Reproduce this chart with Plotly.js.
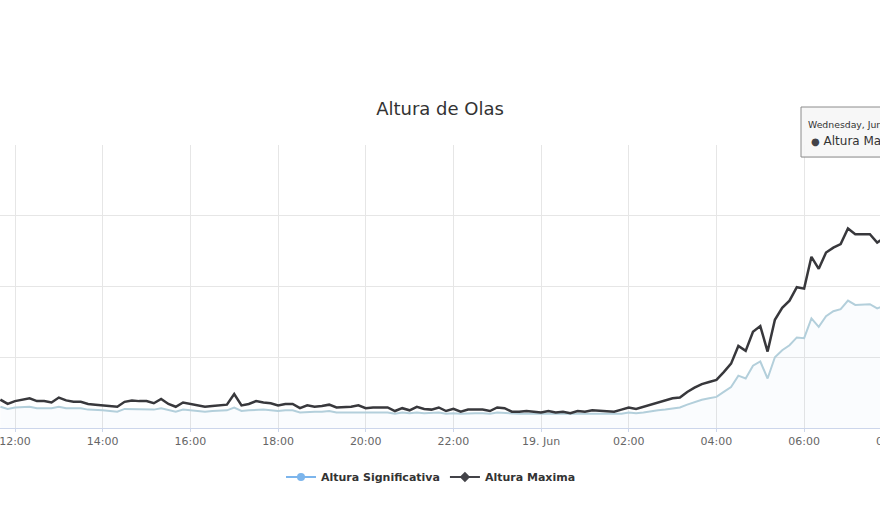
<!DOCTYPE html>
<html>
<head>
<meta charset="utf-8">
<script src="https://cdn.plot.ly/plotly-3.0.1.min.js"></script>
<style>
  html, body { margin: 0; padding: 0; width: 880px; height: 506px; overflow: hidden; background: #fff; }
  #chart { position: absolute; left: -60px; top: 0; width: 980px; height: 506px; }
</style>
</head>
<body>
<div id="chart"></div>
<script>
// ---- data (10-minute readings, starting 2019-06-18 11:40) ----
const startTime = Date.UTC(2019, 5, 18, 11, 40);
const stepMinutes = 10;

const alturaSignificativa = [
  0.30,0.27,0.29,0.29,0.30,0.28,0.28,0.28,0.30,0.28,
  0.28,0.28,0.26,0.26,0.25,0.24,0.23,0.27,0.27,0.27,
  0.27,0.26,0.28,0.25,0.23,0.26,0.25,0.24,0.23,0.24,
  0.24,0.25,0.29,0.24,0.25,0.26,0.26,0.25,0.24,0.25,
  0.25,0.22,0.23,0.23,0.23,0.24,0.22,0.22,0.23,0.23,
  0.22,0.22,0.22,0.22,0.20,0.22,0.21,0.22,0.21,0.21,
  0.22,0.20,0.21,0.20,0.21,0.21,0.21,0.20,0.22,0.21,
  0.20,0.20,0.20,0.20,0.19,0.20,0.19,0.19,0.19,0.20,
  0.19,0.20,0.20,0.19,0.20,0.20,0.22,0.21,0.22,0.24,
  0.25,0.26,0.28,0.29,0.33,0.37,0.40,0.42,0.44,0.51,
  0.58,0.74,0.70,0.88,0.94,0.70,1.00,1.10,1.17,1.28,
  1.27,1.55,1.43,1.58,1.65,1.68,1.80,1.74,1.74,1.75,
  1.69,1.73
];

const alturaMaxima = [
  0.40,0.34,0.38,0.40,0.42,0.38,0.38,0.36,0.43,0.39,
  0.37,0.37,0.34,0.33,0.32,0.30,0.30,0.37,0.39,0.38,
  0.38,0.35,0.41,0.34,0.30,0.36,0.34,0.32,0.30,0.31,
  0.32,0.33,0.48,0.32,0.34,0.38,0.36,0.35,0.32,0.34,
  0.34,0.28,0.32,0.30,0.31,0.33,0.29,0.29,0.30,0.32,
  0.28,0.29,0.29,0.29,0.24,0.28,0.25,0.30,0.27,0.26,
  0.29,0.24,0.27,0.23,0.26,0.26,0.26,0.24,0.29,0.28,
  0.23,0.23,0.24,0.23,0.22,0.24,0.22,0.23,0.21,0.24,
  0.23,0.25,0.24,0.23,0.23,0.26,0.29,0.27,0.30,0.33,
  0.36,0.38,0.42,0.43,0.51,0.57,0.62,0.65,0.68,0.79,
  0.91,1.16,1.09,1.36,1.44,1.08,1.53,1.70,1.80,1.99,
  1.97,2.42,2.25,2.48,2.55,2.60,2.82,2.74,2.74,2.74,
  2.62,2.69
];

const tickValues = [
  '2019-06-18 12:00','2019-06-18 14:00','2019-06-18 16:00','2019-06-18 18:00',
  '2019-06-18 20:00','2019-06-18 22:00','2019-06-19 00:00','2019-06-19 02:00',
  '2019-06-19 04:00','2019-06-19 06:00','2019-06-19 08:00'
];
const tickLabels = ['12:00','14:00','16:00','18:00','20:00','22:00','19. Jun','02:00','04:00','06:00','08:00'];

const seriesNames = ['Altura Significativa', 'Altura Maxima'];
const tooltipHeader = 'Wednesday, Jun 19, 07:40';
const tooltipValue = '2.69';

// ---- build ----
const times = alturaMaxima.map((_, i) =>
  new Date(startTime + i * stepMinutes * 60000).toISOString().slice(0, 19).replace('T', ' '));

// page-pixel helpers (plot area spans page x -20..900, y 145..428)
const px = p => (p + 20) / 920;
const py = p => (428 - p) / 283;

const traces = [
  {
    x: times, y: alturaSignificativa, type: 'scatter', mode: 'lines',
    name: seriesNames[0], showlegend: false,
    line: { color: '#b3cfdb', width: 2 },
    fill: 'tozeroy', fillcolor: 'rgba(124,181,236,0.035)',
    hoverinfo: 'skip'
  },
  {
    x: times, y: alturaMaxima, type: 'scatter', mode: 'lines',
    name: seriesNames[1], showlegend: false,
    line: { color: '#38383c', width: 2.5 },
    hoverinfo: 'skip'
  },
  {
    x: [null], y: [null], type: 'scatter', mode: 'lines+markers',
    name: seriesNames[0], showlegend: true,
    line: { color: '#7cb5ec', width: 2 },
    marker: { color: '#7cb5ec', size: 8, symbol: 'circle' }
  },
  {
    x: [null], y: [null], type: 'scatter', mode: 'lines+markers',
    name: seriesNames[1], showlegend: true,
    line: { color: '#434348', width: 2 },
    marker: { color: '#434348', size: 8, symbol: 'diamond' }
  }
];

const layout = {
  width: 980, height: 506,
  margin: { l: 40, r: 20, t: 145, b: 78, pad: 0 },
  paper_bgcolor: '#ffffff', plot_bgcolor: '#ffffff',
  font: { family: 'DejaVu Sans, sans-serif', color: '#666666' },
  title: {
    text: 'Altura de Olas',
    font: { family: 'DejaVu Sans, sans-serif', size: 18, color: '#333333' },
    xref: 'container', x: 500 / 980, xanchor: 'center',
    yref: 'container', y: 1 - 109 / 506, yanchor: 'middle'
  },
  xaxis: {
    type: 'date',
    range: ['2019-06-18 11:12:06', '2019-06-19 08:11:13'],
    tickmode: 'array', tickvals: tickValues, ticktext: tickLabels,
    showgrid: true, gridcolor: '#e6e6e6', gridwidth: 1,
    showline: true, linecolor: '#ccd6eb', linewidth: 1,
    ticks: 'outside', ticklen: 3, tickcolor: '#ccd6eb',
    tickfont: { family: 'DejaVu Sans, sans-serif', size: 11, color: '#666666' },
    ticklabeloverflow: 'allow',
    zeroline: false, fixedrange: true
  },
  yaxis: {
    range: [0, 4], tickvals: [0, 1, 2, 3, 4],
    showgrid: true, gridcolor: '#e6e6e6', gridwidth: 1,
    zeroline: false, showline: false, showticklabels: false,
    fixedrange: true
  },
  showlegend: true,
  legend: {
    orientation: 'h',
    xref: 'paper', x: px(281), xanchor: 'left',
    yref: 'container', y: 1 - 477 / 506, yanchor: 'middle',
    font: { family: 'DejaVu Sans, sans-serif', size: 11, color: '#333333', weight: 'bold' },
    bgcolor: 'rgba(0,0,0,0)', borderwidth: 0
  },
  shapes: [
    { type: 'rect', xref: 'paper', yref: 'paper',
      x0: px(802), x1: px(802 + 155), y0: py(158), y1: py(108),
      line: { width: 0 }, fillcolor: 'rgba(0,0,0,0.06)' },
    { type: 'rect', xref: 'paper', yref: 'paper',
      x0: px(801), x1: px(801 + 155), y0: py(157), y1: py(107),
      line: { color: '#8c8c8c', width: 1 }, fillcolor: 'rgba(247,247,247,0.95)' }
  ],
  annotations: [
    { xref: 'paper', yref: 'paper', x: px(806), y: py(125), xanchor: 'left', yanchor: 'middle',
      showarrow: false, text: tooltipHeader,
      font: { family: 'DejaVu Sans, sans-serif', size: 9.3, color: '#333333' } },
    { xref: 'paper', yref: 'paper', x: px(809), y: py(141), xanchor: 'left', yanchor: 'middle',
      showarrow: false,
      text: '<span style="color:#434348;font-size:10px">●</span> ' + seriesNames[1] + ': <b>' + tooltipValue + '</b>',
      font: { family: 'DejaVu Sans, sans-serif', size: 12, color: '#333333' } }
  ]
};

Plotly.newPlot('chart', traces, layout, { displayModeBar: false, staticPlot: true });
</script>
</body>
</html>
